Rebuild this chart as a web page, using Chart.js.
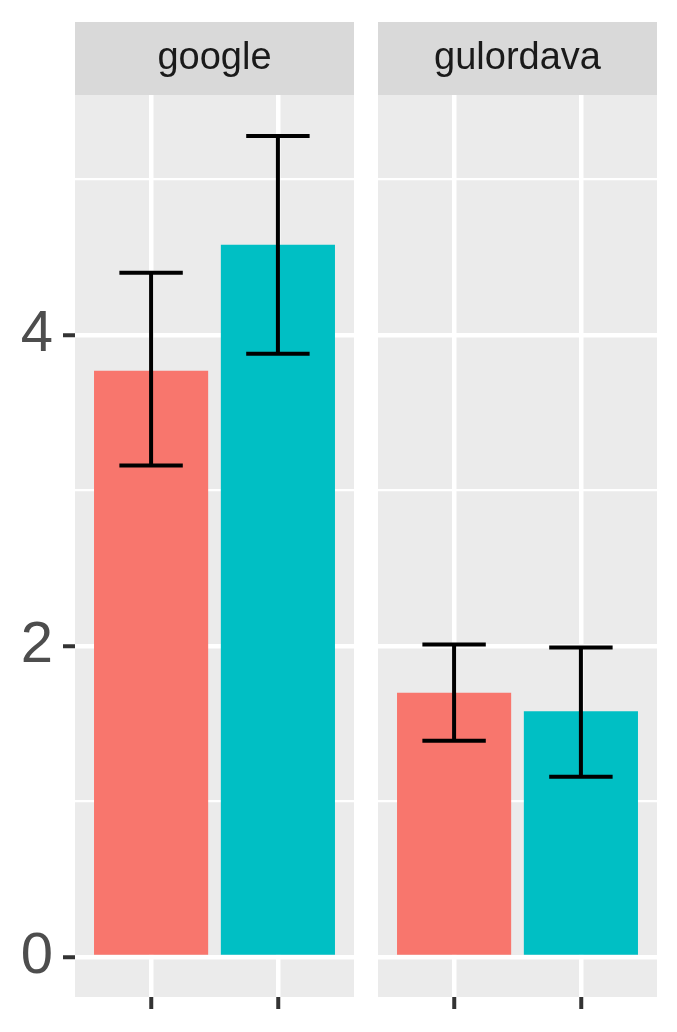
<!DOCTYPE html>
<html>
<head>
<meta charset="utf-8">
<script src="https://cdn.jsdelivr.net/npm/chart.js@4.4.0/dist/chart.umd.min.js"></script>
<style>
body { margin: 0; background: #fff; }
#wrap { position: relative; width: 677px; height: 1032px; }
canvas { position: absolute; top: 0; }
</style>
</head>
<body>
<div id="wrap">
    <canvas id="c1" width="354" height="1032" style="left:0;width:354px;height:1032px"></canvas>
    <canvas id="c2" width="279" height="1032" style="left:378px;width:279px;height:1032px"></canvas>
</div>
<script>
'use strict'

// data
var panels = ['google', 'gulordava'];
var groups = [1, 2];
var colours = ['#F8766D', '#00BFC4'];
var googleMeans = [3.77, 4.58];
var googleLower = [3.16, 3.88];
var googleUpper = [4.40, 5.28];
var gulordavaMeans = [1.70, 1.58];
var gulordavaLower = [1.39, 1.16];
var gulordavaUpper = [2.01, 1.99];
var yTicks = [0, 1, 2, 3, 4, 5];

var font = '"Liberation Sans", Arial, sans-serif';

// grey panel + facet strip
var panelPlugin = {
    id: 'panel',
    beforeDraw: function (chart, args, opts) {
        var c = chart.ctx, a = chart.chartArea;
        c.save();
        c.fillStyle = '#EBEBEB';
        c.fillRect(a.left, a.top, a.right - a.left, a.bottom - a.top);
        c.fillStyle = '#D9D9D9';
        c.fillRect(a.left, a.top - 73, a.right - a.left, 73);
        c.fillStyle = '#1A1A1A';
        c.font = '38px ' + font;
        c.textAlign = 'center';
        c.textBaseline = 'middle';
        c.fillText(opts.title, (a.left + a.right) / 2, a.top - 36);
        c.restore();
    }
};

// error bars
var errorPlugin = {
    id: 'errbars',
    afterDatasetsDraw: function (chart, args, opts) {
        var c = chart.ctx, xs = chart.scales.x, ys = chart.scales.y;
        c.save();
        c.strokeStyle = '#000';
        c.lineWidth = 4;
        for (var i = 0; i < groups.length; i++) {
            var x = xs.getPixelForValue(groups[i]);
            var half = xs.getPixelForValue(groups[i] + 0.25) - x;
            var lo = ys.getPixelForValue(opts.lower[i]);
            var hi = ys.getPixelForValue(opts.upper[i]);
            c.beginPath();
            c.moveTo(x, lo); c.lineTo(x, hi);
            c.moveTo(x - half, lo); c.lineTo(x + half, lo);
            c.moveTo(x - half, hi); c.lineTo(x + half, hi);
            c.stroke();
        }
        c.restore();
    }
};

function makeChart(id, title, means, lower, upper, showY) {
    var pts = groups.map(function (g, i) { return { x: g, y: means[i] }; });
    return new Chart(document.getElementById(id).getContext('2d'), {
        type: 'bar',
        data: {
            datasets: [{
                data: pts,
                backgroundColor: colours,
                borderWidth: 0,
                categoryPercentage: 1,
                barPercentage: 0.9
            }]
        },
        plugins: [panelPlugin, errorPlugin],
        options: {
            responsive: false,
            animation: false,
            layout: { padding: { top: 95, left: 0, right: 0, bottom: 0 } },
            plugins: {
                legend: { display: false },
                tooltip: { enabled: false },
                panel: { title: title },
                errbars: { lower: lower, upper: upper }
            },
            scales: {
                x: {
                    type: 'linear',
                    min: 0.4,
                    max: 2.6,
                    offset: false,
                    afterBuildTicks: function (s) { s.ticks = groups.map(function (v) { return { value: v }; }); },
                    afterFit: function (s) { s.height = 35; s.paddingLeft = 0; s.paddingRight = 0; },
                    border: { display: false },
                    grid: { offset: false, color: '#FFFFFF', lineWidth: 4.5, tickColor: '#333333', tickLength: 12, tickWidth: 4 },
                    ticks: { callback: function () { return ''; } }
                },
                y: {
                    min: -0.257,
                    max: 5.543,
                    afterBuildTicks: function (s) { s.ticks = yTicks.map(function (v) { return { value: v }; }); },
                    afterFit: function (s) { s.width = showY ? 75 : 0; s.paddingTop = 0; s.paddingBottom = 0; },
                    border: { display: false },
                    grid: {
                        color: '#FFFFFF',
                        lineWidth: function (ctx) { return ctx.tick && ctx.tick.value % 2 ? 2.2 : 4.5; },
                        drawTicks: showY,
                        tickColor: function (ctx) { return ctx.tick && ctx.tick.value % 2 ? 'rgba(0,0,0,0)' : '#333333'; },
                        tickLength: 12,
                        tickWidth: 4
                    },
                    ticks: {
                        display: showY,
                        padding: 10,
                        color: '#4D4D4D',
                        font: { family: font, size: 58 },
                        callback: function (v) { return v % 2 === 0 ? String(v) : ''; }
                    }
                }
            }
        }
    });
}

makeChart('c1', panels[0], googleMeans, googleLower, googleUpper, true);
makeChart('c2', panels[1], gulordavaMeans, gulordavaLower, gulordavaUpper, false);
</script>
</body>
</html>
